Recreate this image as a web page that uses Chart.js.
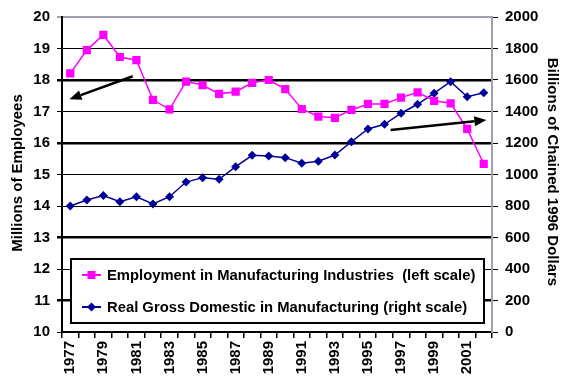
<!DOCTYPE html>
<html>
<head>
<meta charset="utf-8">
<script src="https://cdn.jsdelivr.net/npm/chart.js@4.4.1/dist/chart.umd.min.js"></script>
<style>
html,body{margin:0;padding:0;background:#fff;}
#wrap{width:572px;height:384px;position:relative;}
</style>
</head>
<body>
<div id="wrap"><canvas id="c" width="572" height="384"></canvas></div>
<script>
const years = ['1977','1978','1979','1980','1981','1982','1983','1984','1985','1986','1987','1988','1989','1990','1991','1992','1993','1994','1995','1996','1997','1998','1999','2000','2001','2002'];
const employment = [18.21,18.95,19.43,18.73,18.63,17.37,17.07,17.95,17.84,17.56,17.63,17.91,18.00,17.71,17.08,16.84,16.80,17.05,17.24,17.24,17.44,17.61,17.34,17.26,16.45,15.34];
const realGdp = [800,838,866,827,859,813,859,952,980,970,1050,1122,1117,1107,1071,1084,1124,1208,1289,1319,1389,1446,1516,1589,1494,1519];
const leftTicks = [10,11,12,13,14,15,16,17,18,19,20];
const thickLeftGrid = [11,13,16,18];
const seriesNames = ['Employment in Manufacturing Industries  (left scale)','Real Gross Domestic in Manufacturing (right scale)'];
const leftTitle = 'Millions of Employees';
const rightTitle = 'Billions of Chained 1996 Dollars';
// annotation arrows in data coordinates: [xIndex, leftValue]
const arrows = [
  {from:[3.78,18.12], to:[-0.05,17.39]},
  {from:[19.37,16.41], to:[25.16,16.73]}
];

const FONT = 'Liberation Sans, Arial, sans-serif';
const PINK = '#FF00FF', NAVY = '#000099';

function drawArrow(ctx, x1,y1,x2,y2){
  const ang = Math.atan2(y2-y1,x2-x1);
  const hl = 12, hw = 5;
  const bx = x2 - hl*Math.cos(ang), by = y2 - hl*Math.sin(ang);
  ctx.save();
  ctx.strokeStyle='#000'; ctx.fillStyle='#000'; ctx.lineWidth=2.5;
  ctx.beginPath(); ctx.moveTo(x1,y1); ctx.lineTo(bx,by); ctx.stroke();
  ctx.beginPath();
  ctx.moveTo(x2,y2);
  ctx.lineTo(bx + hw*Math.sin(ang), by - hw*Math.cos(ang));
  ctx.lineTo(bx - hw*Math.sin(ang), by + hw*Math.cos(ang));
  ctx.closePath(); ctx.fill();
  ctx.restore();
}

const extras = {
  id:'extras',
  afterDraw(chart){
    const ctx = chart.ctx, ca = chart.chartArea;
    const xs = chart.scales.x, ys = chart.scales.y;
    arrows.forEach(a=>{
      drawArrow(ctx, xs.getPixelForValue(a.from[0]), ys.getPixelForValue(a.from[1]),
                     xs.getPixelForValue(a.to[0]), ys.getPixelForValue(a.to[1]));
    });
    const lx = ca.left+9, rx = ca.right-8, ty = ca.top+242, by = ca.top+306;
    ctx.save();
    ctx.fillStyle='#fff'; ctx.fillRect(lx,ty,rx-lx,by-ty);
    ctx.strokeStyle='#000'; ctx.lineWidth=2; ctx.strokeRect(lx,ty,rx-lx,by-ty);
    const rows = [{y:ty+16,c:PINK,shape:'sq'},{y:ty+48,c:NAVY,shape:'dia'}];
    rows.forEach((r,i)=>{
      ctx.strokeStyle=r.c; ctx.fillStyle=r.c; ctx.lineWidth=2;
      ctx.beginPath(); ctx.moveTo(lx+11,r.y); ctx.lineTo(lx+30,r.y); ctx.stroke();
      const cx = lx+20.5;
      if(r.shape==='sq'){ ctx.fillRect(cx-4,r.y-4,8,8); }
      else { ctx.beginPath(); ctx.moveTo(cx,r.y-4.5); ctx.lineTo(cx+4.5,r.y); ctx.lineTo(cx,r.y+4.5); ctx.lineTo(cx-4.5,r.y); ctx.closePath(); ctx.fill(); }
      ctx.fillStyle='#000'; ctx.font='bold 14.8px '+FONT; ctx.textBaseline='middle'; ctx.textAlign='left';
      ctx.fillText(seriesNames[i], lx+36, r.y+1);
    });
    ctx.fillStyle='#000'; ctx.font='bold 15px '+FONT; ctx.textAlign='center'; ctx.textBaseline='middle';
    ctx.save(); ctx.translate(18,173); ctx.rotate(-Math.PI/2); ctx.fillText(leftTitle,0,0); ctx.restore();
    ctx.save(); ctx.translate(552,172); ctx.rotate(Math.PI/2); ctx.fillText(rightTitle,0,0); ctx.restore();
    ctx.restore();
  }
};

new Chart(document.getElementById('c'), {
  type:'line',
  data:{
    labels: years,
    datasets:[
      {label:seriesNames[0], data:employment, yAxisID:'y', borderColor:PINK, backgroundColor:PINK, borderWidth:1.5,
       pointStyle:'rect', pointRadius:5.8, pointBorderWidth:0, tension:0},
      {label:seriesNames[1], data:realGdp, yAxisID:'y2', borderColor:NAVY, backgroundColor:NAVY, borderWidth:1.5,
       pointStyle:'rectRot', pointRadius:4.5, pointBorderWidth:0, tension:0}
    ]
  },
  options:{
    responsive:false, animation:false, devicePixelRatio:1,
    layout:{padding:{top:17,left:0,right:0,bottom:0}},
    plugins:{legend:{display:false}, tooltip:{enabled:false}},
    scales:{
      x:{
        offset:true,
        grid:{display:true, offset:true, drawOnChartArea:false, drawTicks:true, tickLength:6, color:'#000', lineWidth:1.5},
        border:{display:true, color:'#000', width:2},
        ticks:{autoSkip:false, maxRotation:90, minRotation:90, color:'#000', font:{family:FONT, size:15, weight:'bold'}, padding:3,
          callback:function(v,i){ return i%2===0 ? years[i] : ''; }},
        afterFit(s){ s.height = 52; }
      },
      y:{
        position:'left', min:10, max:20,
        afterBuildTicks(s){ s.ticks = leftTicks.map(v=>({value:v})); },
        grid:{display:true, drawTicks:true, tickLength:5,
          color:(c)=> c.tick && c.tick.value===20 ? '#a0a0b0' : '#000',
          lineWidth:(c)=> c.tick && c.tick.value===20 ? 2 : (thickLeftGrid.includes(c.tick && c.tick.value) ? 2.5 : 1)},
        border:{display:true, color:'#000', width:2},
        ticks:{color:'#000', padding:7, font:{family:FONT, size:15, weight:'bold'}},
        afterFit(s){ s.width = 62; }
      },
      y2:{
        position:'right', min:0, max:2000,
        ticks:{stepSize:200, color:'#000', padding:7, font:{family:FONT, size:15, weight:'bold'},
          callback:(v)=> String(v)},
        grid:{display:true, drawOnChartArea:false, drawTicks:true, tickLength:6, color:'#000', lineWidth:1},
        border:{display:true, color:'#a0a0b0', width:2},
        afterFit(s){ s.width = 80; }
      }
    }
  },
  plugins:[extras]
});
</script>
</body>
</html>
